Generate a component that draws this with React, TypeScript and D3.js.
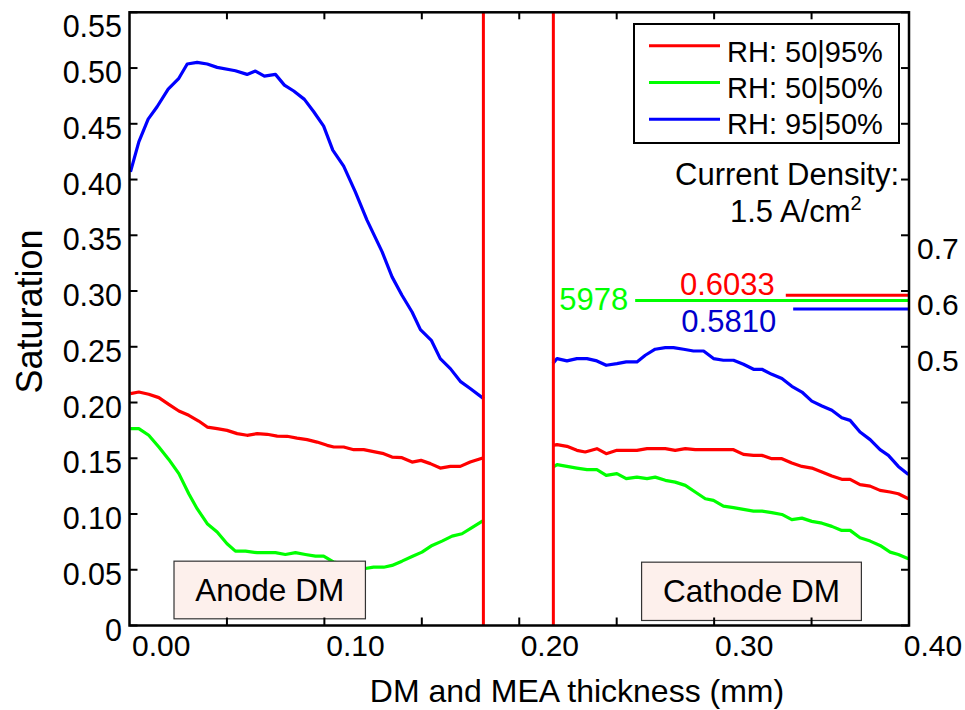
import React from "react";
import * as d3 from "d3";

// ---------- data (x in mm, y = saturation) ----------
const seriesNames = ["RH: 50|95%", "RH: 50|50%", "RH: 95|50%"];
const seriesColors = ["#ff0000", "#00ff00", "#0000ff"];

const redAnode: [number, number][] = [
  [-0.0158, 0.208], [-0.0115, 0.2094], [-0.0064, 0.2074], [-0.0012, 0.2044], [0.0039, 0.1984],
  [0.0091, 0.1924], [0.0142, 0.1885], [0.0193, 0.1834], [0.0237, 0.178], [0.0288, 0.1766],
  [0.0339, 0.175], [0.0391, 0.1721], [0.0442, 0.1706], [0.0494, 0.1721], [0.0545, 0.1715],
  [0.0597, 0.1699], [0.0648, 0.1697], [0.0699, 0.1681], [0.0751, 0.1667], [0.0802, 0.1645],
  [0.0854, 0.1616], [0.0888, 0.1601], [0.0939, 0.1601], [0.0991, 0.1577], [0.1042, 0.1577],
  [0.1093, 0.1559], [0.1145, 0.1541], [0.1188, 0.1511], [0.1239, 0.1505], [0.1291, 0.1466],
  [0.1337, 0.1481], [0.1385, 0.1452], [0.1436, 0.1412], [0.1488, 0.1427], [0.1539, 0.1427],
  [0.159, 0.1466], [0.1659, 0.1505],
];
const greenAnode: [number, number][] = [
  [-0.0158, 0.1766], [-0.0115, 0.1766], [-0.0064, 0.1706], [-0.0012, 0.1601], [0.0039, 0.149],
  [0.0091, 0.1362], [0.0142, 0.1182], [0.0185, 0.1048], [0.0237, 0.0913], [0.0288, 0.0838],
  [0.0339, 0.0733], [0.0382, 0.0667], [0.0434, 0.0667], [0.0494, 0.0653], [0.0588, 0.0653],
  [0.0639, 0.0637], [0.0691, 0.0653], [0.0742, 0.0637], [0.0794, 0.0622], [0.0836, 0.0622],
  [0.0888, 0.0568], [0.0939, 0.0554], [0.0991, 0.0523], [0.1042, 0.0509], [0.1093, 0.0523],
  [0.1145, 0.0523], [0.1188, 0.0539], [0.1239, 0.0577], [0.1291, 0.0619], [0.1342, 0.0658],
  [0.1394, 0.0718], [0.1445, 0.0757], [0.1497, 0.0802], [0.1548, 0.0823], [0.1599, 0.0877],
  [0.1659, 0.0943],
];
const blueAnode: [number, number][] = [
  [-0.0158, 0.4069], [-0.0115, 0.4338], [-0.0067, 0.4542], [-0.0021, 0.4653], [0.0036, 0.4811],
  [0.0091, 0.4908], [0.0134, 0.5036], [0.0185, 0.5051], [0.0237, 0.5036], [0.0288, 0.5006],
  [0.0382, 0.4976], [0.0442, 0.4943], [0.0485, 0.4973], [0.0531, 0.4928], [0.0588, 0.4943],
  [0.0634, 0.4847], [0.0682, 0.4794], [0.0737, 0.4719], [0.0785, 0.4608], [0.0836, 0.4479],
  [0.0883, 0.4264], [0.0939, 0.412], [0.0999, 0.389], [0.1059, 0.3636], [0.1137, 0.3351],
  [0.1188, 0.3127], [0.1239, 0.2962], [0.1291, 0.2812], [0.1334, 0.2654], [0.139, 0.2558],
  [0.1436, 0.2394], [0.1488, 0.2304], [0.1539, 0.219], [0.159, 0.2125], [0.1659, 0.2035],
];
const redCathode: [number, number][] = [
  [0.2016, 0.1616], [0.2037, 0.1622], [0.2088, 0.1607], [0.2139, 0.1571], [0.2182, 0.1556],
  [0.2242, 0.1586], [0.229, 0.1541], [0.2345, 0.1571], [0.2448, 0.1571], [0.25, 0.1586],
  [0.2594, 0.1586], [0.2645, 0.1571], [0.2697, 0.1586], [0.2748, 0.1577], [0.2945, 0.1577],
  [0.2996, 0.1535], [0.3048, 0.1526], [0.3091, 0.1526], [0.3142, 0.1496], [0.3194, 0.1496],
  [0.3245, 0.1457], [0.3297, 0.1427], [0.3348, 0.1412], [0.34, 0.1376], [0.3451, 0.134],
  [0.3502, 0.1311], [0.3545, 0.1311], [0.3596, 0.1263], [0.3648, 0.125], [0.3699, 0.1212],
  [0.3751, 0.1197], [0.3793, 0.1182], [0.3845, 0.1137],
];
const greenCathode: [number, number][] = [
  [0.2016, 0.1421], [0.2037, 0.1443], [0.2088, 0.1427], [0.2139, 0.1412], [0.2191, 0.1398],
  [0.2242, 0.1398], [0.229, 0.1347], [0.2345, 0.1362], [0.2393, 0.1317], [0.2448, 0.1331],
  [0.25, 0.1317], [0.2542, 0.1331], [0.2594, 0.1302], [0.2645, 0.1286], [0.2697, 0.1257],
  [0.2748, 0.1197], [0.28, 0.1137], [0.2842, 0.1122], [0.2893, 0.1071], [0.2945, 0.1057],
  [0.2996, 0.1041], [0.3048, 0.1026], [0.3091, 0.1026], [0.3142, 0.1012], [0.3194, 0.0996],
  [0.3245, 0.0949], [0.3297, 0.0963], [0.3348, 0.0934], [0.34, 0.0918], [0.3451, 0.0889],
  [0.3502, 0.0853], [0.3545, 0.0853], [0.3596, 0.0787], [0.3648, 0.0757], [0.3699, 0.0718],
  [0.3751, 0.0658], [0.3793, 0.0637], [0.3845, 0.0599],
];
const blueCathode: [number, number][] = [
  [0.2016, 0.2349], [0.2037, 0.2394], [0.2088, 0.2373], [0.2139, 0.2394], [0.2191, 0.2394],
  [0.2242, 0.2373], [0.229, 0.2334], [0.2345, 0.2349], [0.2393, 0.2364], [0.2448, 0.2364],
  [0.2491, 0.2424], [0.2542, 0.2478], [0.2594, 0.2493], [0.2636, 0.2493], [0.2688, 0.2478],
  [0.2739, 0.2462], [0.2791, 0.2462], [0.2842, 0.2394], [0.2893, 0.2379], [0.2945, 0.2379],
  [0.2996, 0.2343], [0.3048, 0.2298], [0.3091, 0.2298], [0.3142, 0.2253], [0.3194, 0.2215],
  [0.3245, 0.2145], [0.3297, 0.2094], [0.3348, 0.2013], [0.34, 0.1969], [0.3451, 0.193],
  [0.3502, 0.1864], [0.3545, 0.184], [0.3596, 0.1735], [0.3648, 0.1667], [0.3699, 0.1577],
  [0.3742, 0.1526], [0.3793, 0.1427], [0.3845, 0.1355],
];

// MEA boundaries (mm)
const boundaries = [0.1658, 0.2018];

// Axes
const xDomain: [number, number] = [-0.0163, 0.3848];
const xTickLabels = [0.0, 0.1, 0.2, 0.3, 0.4];
const yTicks = [0, 0.05, 0.1, 0.15, 0.2, 0.25, 0.3, 0.35, 0.4, 0.45, 0.5, 0.55];
const yTickLabels = ["0", "0.05", "0.10", "0.15", "0.20", "0.25", "0.30", "0.35", "0.40", "0.45", "0.50", "0.55"];
const rightTicks = [0, 0.1, 0.2, 0.3, 0.4, 0.5, 0.6, 0.7, 0.8, 0.9, 1.0, 1.1];
const rightTickLabels = [0.5, 0.6, 0.7];

// Voltage annotations on right axis
const voltLevels = [0.5925, 0.5829, 0.5679];
const voltStarts = [0.3214, 0.2439, 0.3252];
const voltLabels = ["0.6033", "5978", "0.5810"];
const voltLabelColors = ["#ff0000", "#00ff00", "#0000cc"];

// DM annotation boxes [x0, x1, yTop, yBottom] in data units
const boxLabels = ["Anode DM", "Cathode DM"];
const boxExtents: [number, number, number, number][] = [
  [0.0066, 0.1051, 0.0577, 0.006],
  [0.2472, 0.3603, 0.0568, 0.0045],
];

const FONT = "'Liberation Sans', Arial, Helvetica, sans-serif";

export default function App() {
  const W = 965, H = 710;
  const left = 129.5, right = 909, top = 12.3, bottom = 625.5;

  const x = d3.scaleLinear().domain(xDomain).range([left, right]);
  const y = d3.scaleLinear().domain([0, 0.55]).range([bottom, top]);
  const yR = d3.scaleLinear().domain([0, 1.1]).range([bottom, top]);

  const line = d3.line<[number, number]>().x((d) => x(d[0])).y((d) => y(d[1]));

  const curves = [
    { d: redAnode, c: seriesColors[0] },
    { d: greenAnode, c: seriesColors[1] },
    { d: blueAnode, c: seriesColors[2] },
    { d: redCathode, c: seriesColors[0] },
    { d: greenCathode, c: seriesColors[1] },
    { d: blueCathode, c: seriesColors[2] },
  ];

  const nDiv = 8;
  const xTickVals = d3.range(1, nDiv).map((k) => xDomain[0] + (k * (xDomain[1] - xDomain[0])) / nDiv);

  const voltLabelDx = [-11, -7, -17];
  const voltLabelDy = [0, 9, 23.5];

  return (
    <svg
      width={W}
      height={H}
      style={{ position: "fixed", left: 0, top: 0, background: "#fff" }}
      fontFamily={FONT}
    >
      <rect x={0} y={0} width={W} height={H} fill="#fff" />

      {/* curves */}
      {curves.map((c, i) => (
        <path key={i} d={line(c.d) || ""} fill="none" stroke={c.c} strokeWidth={3.2} strokeLinejoin="round" />
      ))}

      {/* MEA boundaries */}
      {boundaries.map((b, i) => (
        <line key={i} x1={x(b)} x2={x(b)} y1={top} y2={bottom} stroke="#ff0000" strokeWidth={3} />
      ))}

      {/* voltage lines */}
      {voltLevels.map((v, i) => (
        <g key={i}>
          <line x1={x(voltStarts[i])} x2={right} y1={yR(v)} y2={yR(v)} stroke={seriesColors[i]} strokeWidth={3} />
          <text
            x={x(voltStarts[i]) + voltLabelDx[i]}
            y={yR(v) + voltLabelDy[i]}
            textAnchor="end"
            fontSize={31}
            fill={voltLabelColors[i]}
          >
            {voltLabels[i]}
          </text>
        </g>
      ))}

      {/* DM boxes */}
      {boxExtents.map((b, i) => (
        <g key={i}>
          <rect
            x={x(b[0])}
            y={y(b[2])}
            width={x(b[1]) - x(b[0])}
            height={y(b[3]) - y(b[2])}
            fill="#fdf0ec"
            stroke="#333"
            strokeWidth={1.2}
          />
          <text
            x={(x(b[0]) + x(b[1])) / 2}
            y={(y(b[2]) + y(b[3])) / 2 + 11}
            textAnchor="middle"
            fontSize={31.5}
            fill="#000"
          >
            {boxLabels[i]}
          </text>
        </g>
      ))}

      {/* frame */}
      <rect x={left} y={top} width={right - left} height={bottom - top} fill="none" stroke="#000" strokeWidth={2.5} />

      {/* left ticks + labels */}
      {yTicks.map((t, i) => (
        <g key={i}>
          <line x1={left} x2={left + 8} y1={y(t)} y2={y(t)} stroke="#000" strokeWidth={2} />
          <text x={122} y={Math.max(y(t) + 15, top + 25)} textAnchor="end" fontSize={30.5} fill="#000">
            {yTickLabels[i]}
          </text>
        </g>
      ))}

      {/* right ticks */}
      {rightTicks.map((t, i) => (
        <line key={i} x1={right - 8} x2={right} y1={yR(t)} y2={yR(t)} stroke="#000" strokeWidth={2} />
      ))}
      {rightTickLabels.map((t, i) => (
        <text key={i} x={917} y={yR(t) + 24} textAnchor="start" fontSize={30} fill="#000">
          {t.toFixed(1)}
        </text>
      ))}

      {/* top & bottom ticks */}
      {xTickVals.map((t, i) => (
        <g key={i}>
          <line x1={x(t)} x2={x(t)} y1={bottom} y2={bottom - 8} stroke="#000" strokeWidth={2} />
          <line x1={x(t)} x2={x(t)} y1={top} y2={top + 7} stroke="#000" strokeWidth={2} />
        </g>
      ))}
      {xTickLabels.map((t, i) => (
        <text key={i} x={Math.min(x(t), W - 32)} y={656} textAnchor="middle" fontSize={30} fill="#000">
          {t.toFixed(2)}
        </text>
      ))}

      {/* axis titles */}
      <text x={577} y={702} textAnchor="middle" fontSize={32} fill="#000">
        DM and MEA thickness (mm)
      </text>
      <text transform="translate(42,311.5) rotate(-90)" textAnchor="middle" fontSize={36} fill="#000">
        Saturation
      </text>

      {/* legend */}
      <rect x={634} y={24} width={265} height={119} fill="#fff" stroke="#000" strokeWidth={2} />
      {seriesNames.map((n, i) => (
        <g key={i}>
          <line x1={649} x2={720} y1={45.7 + i * 36.8} y2={45.7 + i * 36.8} stroke={seriesColors[i]} strokeWidth={3} />
          <text x={727} y={62 + i * 36} fontSize={29} fill="#000">
            {n}
          </text>
        </g>
      ))}

      {/* current density */}
      <text x={899} y={185} textAnchor="end" fontSize={31} fill="#000">
        Current Density:
      </text>
      <text x={730} y={222} textAnchor="start" fontSize={31} fill="#000">
        1.5 A/cm
        <tspan dy={-12} fontSize={20}>
          2
        </tspan>
      </text>
    </svg>
  );
}
